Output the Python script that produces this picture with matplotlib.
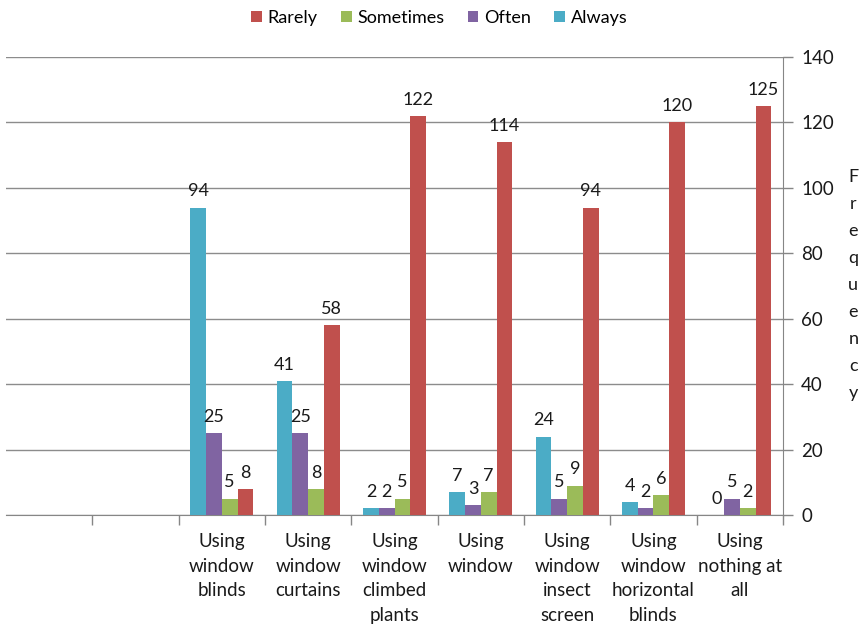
import numpy as np
import matplotlib.pyplot as plt

plt.rcParams["font.family"] = ["Lato", "DejaVu Sans"]

categories = ["", "",
              "Using\nwindow\nblinds",
              "Using\nwindow\ncurtains",
              "Using\nwindow\nclimbed\nplants",
              "Using\nwindow",
              "Using\nwindow\ninsect\nscreen",
              "Using\nwindow\nhorizontal\nblinds",
              "Using\nnothing at\nall"]
always = [None, None, 94, 41, 2, 7, 24, 4, 0]
often = [None, None, 25, 25, 2, 3, 5, 2, 5]
sometimes = [None, None, 5, 8, 5, 7, 9, 6, 2]
rarely = [None, None, 8, 58, 122, 114, 94, 120, 125]

series = [("Always", always, "#4BACC6"),
          ("Often", often, "#8064A2"),
          ("Sometimes", sometimes, "#9BBB59"),
          ("Rarely", rarely, "#C0504D")]

fig = plt.figure(figsize=(8.61, 6.30), dpi=100)
ax = fig.add_axes([0.007, 0.1825, 0.9024, 0.727])

x = np.arange(len(categories))
w = 1 / 5.5
handles = {}
for i, (name, vals, color) in enumerate(series):
    idx = [j for j, v in enumerate(vals) if v is not None]
    ys = [vals[j] for j in idx]
    xs = x[idx] + (i - 1.5) * w
    bars = ax.bar(xs, ys, width=w, color=color, label=name, zorder=3)
    handles[name] = bars
    for xi, yi in zip(xs, ys):
        ax.text(xi, yi + 2.5, str(yi), ha="center", va="bottom",
                fontsize=13, color="#1a1a1a")

ax.set_xlim(-0.5, len(categories) - 0.5)
ax.set_ylim(0, 140)
ax.yaxis.tick_right()
ax.set_yticks(range(0, 141, 20))
ax.tick_params(axis="y", length=7, width=1, color="#868686",
               labelsize=13.5, labelcolor="#1a1a1a", pad=6)
ax.grid(axis="y", color="#8c8c8c", linewidth=1, zorder=0)

ax.set_xticks(x)
ax.set_xticklabels(categories, fontsize=13.5, color="#1a1a1a", linespacing=1.55)
ax.set_xticks(np.arange(0.5, len(categories), 1), minor=True)
ax.tick_params(axis="x", which="major", length=0, pad=13)
ax.tick_params(axis="x", which="minor", length=7, width=1, color="#868686")

for s in ["top", "left"]:
    ax.spines[s].set_visible(False)
for s in ["bottom", "right"]:
    ax.spines[s].set_color("#868686")

fig.text(0.991, 0.548, "F\nr\ne\nq\nu\ne\nn\nc\ny", ha="center", va="center",
         fontsize=13, color="#1a1a1a", linespacing=1.85)

order = ["Rarely", "Sometimes", "Often", "Always"]
fig.legend([handles[n] for n in order], order, loc="center",
           bbox_to_anchor=(0.51, 0.972), ncol=4, frameon=False, fontsize=13,
           handlelength=0.6, handleheight=0.6, handletextpad=0.3,
           columnspacing=1.3)

fig.savefig("out.png", dpi=100)
